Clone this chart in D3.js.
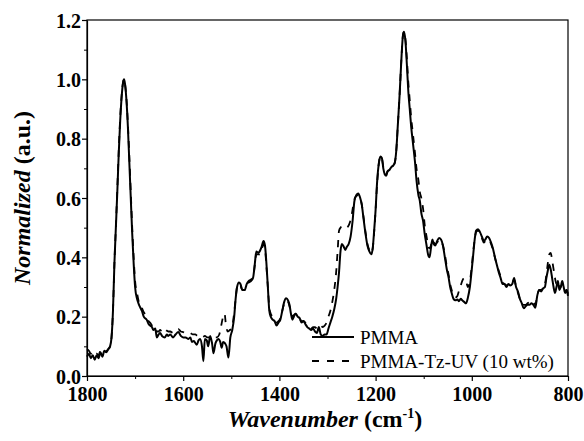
<!DOCTYPE html>
<html>
<head>
<meta charset="utf-8">
<script src="https://cdn.jsdelivr.net/npm/d3@7/dist/d3.min.js"></script>
<style>
  html, body { margin: 0; padding: 0; background: #fff; }
  svg { display: block; }
  text { font-family: "Liberation Serif", "Times New Roman", serif; fill: #000; }
</style>
</head>
<body>
<svg id="chart" width="584" height="441"></svg>
<script>
// ---------------- DATA ----------------
const pmmaWn = [1800,1796,1792,1788,1784,1780,1776,1772,1768,1764,1760,1756,1752,1749,1746,1743,1740,1737,1734,1731,1728,1725,1723,1721,1718,1715,1712,1709,1706,1703,1700,1696,1693,1689,1686,1682,1676,1672,1669,1665,1662,1658,1655,1651,1648,1644,1638,1634,1631,1627,1621,1616,1610,1605,1600,1595,1589,1585,1582,1578,1572,1568,1565,1561,1558,1555,1551,1548,1544,1540,1537,1533,1530,1527,1523,1520,1517,1513,1510,1506,1502,1498,1494,1491,1488,1484,1481,1477,1472,1468,1464,1459,1455,1451,1448,1444,1441,1437,1433,1430,1427,1424,1421,1418,1414,1410,1406,1402,1398,1394,1390,1386,1382,1379,1376,1373,1370,1366,1362,1358,1354,1350,1346,1342,1338,1334,1330,1326,1322,1318,1314,1310,1306,1302,1298,1294,1290,1286,1282,1279,1276,1273,1270,1266,1263,1260,1256,1252,1248,1244,1240,1236,1232,1229,1225,1221,1217,1213,1209,1206,1203,1200,1197,1193,1190,1187,1184,1181,1178,1175,1171,1167,1163,1160,1157,1154,1150,1146,1143,1141,1138,1135,1132,1129,1126,1122,1118,1115,1111,1108,1105,1101,1098,1094,1091,1088,1085,1082,1079,1076,1072,1068,1064,1060,1056,1052,1048,1045,1041,1038,1034,1030,1027,1023,1020,1016,1012,1008,1004,1000,997,994,991,987,983,979,975,972,968,964,960,956,952,948,944,940,936,932,928,924,920,916,912,908,904,900,896,892,888,884,880,876,872,868,864,860,856,852,848,845,842,839,836,833,830,827,824,821,818,815,812,809,806,803,800];
const pmmaVal = [0.065,0.075,0.06,0.07,0.055,0.07,0.06,0.08,0.065,0.085,0.08,0.09,0.10,0.13,0.22,0.38,0.50,0.62,0.75,0.86,0.94,0.99,1.0,0.985,0.93,0.84,0.72,0.60,0.48,0.38,0.30,0.26,0.245,0.23,0.22,0.2,0.19,0.175,0.17,0.165,0.155,0.16,0.13,0.14,0.145,0.135,0.13,0.14,0.135,0.14,0.13,0.14,0.148,0.135,0.13,0.13,0.125,0.13,0.115,0.118,0.105,0.12,0.125,0.1,0.05,0.125,0.12,0.10,0.135,0.11,0.077,0.11,0.12,0.125,0.115,0.095,0.115,0.11,0.10,0.062,0.13,0.155,0.2,0.26,0.3,0.315,0.31,0.29,0.29,0.31,0.32,0.325,0.33,0.38,0.42,0.415,0.42,0.435,0.455,0.44,0.38,0.30,0.22,0.2,0.19,0.185,0.17,0.18,0.19,0.22,0.25,0.262,0.255,0.24,0.21,0.19,0.2,0.21,0.2,0.195,0.18,0.185,0.175,0.165,0.16,0.155,0.16,0.15,0.145,0.165,0.14,0.135,0.14,0.14,0.16,0.18,0.2,0.225,0.26,0.30,0.35,0.42,0.445,0.435,0.425,0.435,0.445,0.47,0.52,0.59,0.61,0.615,0.60,0.58,0.53,0.48,0.44,0.42,0.41,0.43,0.49,0.56,0.65,0.72,0.74,0.735,0.70,0.68,0.675,0.69,0.695,0.705,0.71,0.72,0.76,0.84,0.95,1.08,1.15,1.16,1.13,1.05,0.96,0.90,0.84,0.78,0.72,0.66,0.61,0.59,0.55,0.52,0.48,0.44,0.41,0.40,0.43,0.46,0.445,0.44,0.455,0.465,0.46,0.44,0.40,0.36,0.33,0.30,0.275,0.26,0.255,0.258,0.252,0.26,0.255,0.25,0.245,0.265,0.30,0.36,0.41,0.46,0.49,0.495,0.485,0.47,0.455,0.46,0.47,0.465,0.45,0.43,0.40,0.375,0.35,0.33,0.31,0.31,0.30,0.31,0.305,0.31,0.33,0.30,0.285,0.26,0.245,0.228,0.235,0.24,0.24,0.245,0.24,0.23,0.27,0.29,0.285,0.295,0.30,0.33,0.355,0.375,0.36,0.33,0.30,0.28,0.30,0.32,0.29,0.30,0.32,0.30,0.28,0.29,0.27];

const tzWn = [1800,1796,1792,1788,1784,1780,1776,1772,1768,1764,1760,1756,1752,1749,1746,1743,1740,1737,1734,1731,1728,1725,1723,1721,1718,1715,1712,1709,1706,1703,1700,1696,1693,1689,1686,1682,1676,1672,1669,1665,1662,1658,1655,1651,1648,1644,1640,1636,1631,1627,1621,1616,1610,1605,1600,1595,1589,1585,1580,1575,1570,1565,1560,1555,1550,1545,1540,1535,1530,1525,1521,1517,1514,1511,1507,1503,1499,1495,1491,1488,1484,1481,1477,1472,1468,1464,1459,1455,1451,1448,1444,1441,1437,1433,1430,1427,1424,1421,1418,1414,1410,1406,1402,1398,1394,1390,1386,1382,1379,1376,1373,1370,1366,1362,1358,1354,1350,1346,1342,1338,1334,1330,1326,1322,1318,1314,1310,1306,1302,1298,1294,1290,1286,1282,1279,1276,1273,1269,1265,1261,1257,1253,1249,1245,1241,1236,1232,1229,1225,1221,1217,1213,1209,1206,1203,1200,1197,1193,1190,1187,1184,1181,1178,1175,1171,1167,1163,1160,1157,1154,1150,1146,1143,1141,1138,1135,1132,1129,1126,1122,1118,1115,1111,1108,1105,1101,1098,1094,1091,1088,1085,1082,1079,1076,1072,1068,1064,1060,1056,1052,1048,1045,1041,1038,1034,1030,1027,1023,1020,1016,1012,1008,1004,1000,997,994,991,987,983,979,975,972,968,964,960,956,952,948,944,940,936,932,928,924,920,916,912,908,904,900,896,892,888,884,880,876,872,868,864,860,856,852,848,845,842,839,836,833,830,827,824,821,818,815,812,809,806,803,800];
const tzVal = [0.09,0.085,0.075,0.08,0.07,0.075,0.07,0.085,0.08,0.085,0.085,0.09,0.10,0.13,0.22,0.38,0.50,0.63,0.76,0.87,0.945,0.99,1.0,0.985,0.935,0.85,0.74,0.62,0.50,0.40,0.32,0.28,0.255,0.24,0.23,0.215,0.2,0.185,0.18,0.17,0.165,0.165,0.15,0.15,0.155,0.15,0.16,0.155,0.15,0.15,0.145,0.15,0.158,0.15,0.148,0.145,0.147,0.145,0.14,0.14,0.135,0.135,0.13,0.135,0.13,0.13,0.125,0.13,0.13,0.14,0.17,0.2,0.21,0.17,0.15,0.155,0.16,0.2,0.26,0.3,0.31,0.305,0.29,0.29,0.305,0.315,0.32,0.33,0.375,0.41,0.41,0.41,0.425,0.445,0.43,0.37,0.30,0.23,0.21,0.2,0.19,0.18,0.185,0.195,0.22,0.245,0.255,0.25,0.235,0.215,0.2,0.205,0.21,0.205,0.195,0.185,0.185,0.18,0.17,0.165,0.16,0.165,0.165,0.16,0.17,0.17,0.165,0.17,0.18,0.20,0.22,0.25,0.29,0.35,0.42,0.49,0.50,0.505,0.50,0.50,0.505,0.52,0.55,0.59,0.605,0.61,0.60,0.58,0.535,0.485,0.445,0.425,0.415,0.43,0.485,0.56,0.645,0.72,0.74,0.735,0.705,0.685,0.68,0.69,0.695,0.705,0.71,0.72,0.76,0.84,0.95,1.08,1.15,1.16,1.135,1.07,0.99,0.93,0.87,0.81,0.75,0.70,0.66,0.62,0.60,0.56,0.51,0.47,0.44,0.43,0.44,0.46,0.45,0.445,0.45,0.46,0.455,0.44,0.41,0.37,0.34,0.31,0.285,0.27,0.265,0.27,0.285,0.305,0.32,0.33,0.32,0.30,0.32,0.37,0.42,0.46,0.485,0.49,0.48,0.465,0.45,0.455,0.46,0.46,0.445,0.425,0.40,0.375,0.355,0.335,0.315,0.31,0.305,0.31,0.31,0.315,0.325,0.30,0.28,0.26,0.25,0.24,0.24,0.245,0.25,0.255,0.25,0.24,0.27,0.29,0.29,0.30,0.31,0.34,0.38,0.41,0.415,0.39,0.36,0.33,0.31,0.32,0.30,0.30,0.31,0.30,0.285,0.29,0.275];

const xMajorTicks = [1800, 1600, 1400, 1200, 1000, 800];
const xMinorTicks = [1700, 1500, 1300, 1100, 900];
const yMajorTicks = [0.0, 0.2, 0.4, 0.6, 0.8, 1.0, 1.2];
const yMinorTicks = [0.1, 0.3, 0.5, 0.7, 0.9, 1.1];
const seriesNames = ["PMMA", "PMMA-Tz-UV (10 wt%)"];

// ---------------- CHART ----------------
const svg = d3.select("#chart");
const L = 87, R = 568, T = 20, B = 376;

const x = d3.scaleLinear().domain([1800, 800]).range([L, R]);
const y = d3.scaleLinear().domain([0, 1.2]).range([B, T]);

// frame
svg.append("rect")
  .attr("x", L).attr("y", T).attr("width", R - L).attr("height", B - T)
  .attr("fill", "none").attr("stroke", "#000").attr("stroke-width", 1.2);

const tickFont = g => g.selectAll("text")
  .style("font-family", '"Liberation Serif", "Times New Roman", serif')
  .style("font-size", "20px").style("font-weight", "bold").attr("fill", "#000");

// x axis major
const gx = svg.append("g").attr("transform", `translate(0,${B})`)
  .call(d3.axisBottom(x).tickValues(xMajorTicks).tickSize(5).tickSizeOuter(0).tickPadding(6).tickFormat(d3.format("d")));
gx.call(tickFont);
gx.select(".domain").attr("stroke-width", 1.2);
gx.selectAll(".tick line").attr("stroke-width", 1.2);
// x axis minor
const gxm = svg.append("g").attr("transform", `translate(0,${B})`)
  .call(d3.axisBottom(x).tickValues(xMinorTicks).tickSize(3).tickSizeOuter(0).tickFormat(""));
gxm.select(".domain").remove();

// y axis major
const gy = svg.append("g").attr("transform", `translate(${L},0)`)
  .call(d3.axisLeft(y).tickValues(yMajorTicks).tickSize(5).tickSizeOuter(0).tickPadding(1).tickFormat(d3.format(".1f")));
gy.call(tickFont);
gy.select(".domain").attr("stroke-width", 1.2);
gy.selectAll(".tick line").attr("stroke-width", 1.2);
gy.selectAll(".tick text").attr("dy", "0.35em");
// y axis minor
const gym = svg.append("g").attr("transform", `translate(${L},0)`)
  .call(d3.axisLeft(y).tickValues(yMinorTicks).tickSize(3).tickSizeOuter(0).tickFormat(""));
gym.select(".domain").remove();

// lines
const line = d3.line().x(d => x(d[0])).y(d => y(d[1])).curve(d3.curveMonotoneX);
const tzData = tzWn.map((w, i) => [w, tzVal[i]]);
const pmmaData = pmmaWn.map((w, i) => [w, pmmaVal[i]]);

svg.append("path").datum(tzData)
  .attr("d", line).attr("fill", "none").attr("stroke", "#000")
  .attr("stroke-width", 1.8).attr("stroke-dasharray", "7,7");
svg.append("path").datum(pmmaData)
  .attr("d", line).attr("fill", "none").attr("stroke", "#000")
  .attr("stroke-width", 2).attr("stroke-linejoin", "round");

// legend
const leg = svg.append("g");
const legRows = [{ name: seriesNames[0], dash: null, y: 337 }, { name: seriesNames[1], dash: "7,8", y: 361 }];
legRows.forEach(r => {
  leg.append("line").attr("x1", 312).attr("x2", 354).attr("y1", r.y).attr("y2", r.y)
    .attr("stroke", "#000").attr("stroke-width", r.dash ? 1.8 : 2)
    .attr("stroke-dasharray", r.dash);
  leg.append("text").attr("x", 360).attr("y", r.y + 7)
    .style("font-size", "19px").text(r.name);
});

// x title
const xt = svg.append("text").attr("x", 325).attr("y", 427).attr("text-anchor", "middle")
  .style("font-size", "24px").style("font-weight", "bold");
xt.append("tspan").style("font-style", "italic").text("Wavenumber");
xt.append("tspan").text(" (cm");
xt.append("tspan").attr("dy", -9).style("font-size", "14px").text("-1");
xt.append("tspan").attr("dy", 9).text(")");

// y title
const yt = svg.append("text").attr("transform", "translate(30,198) rotate(-90)").attr("text-anchor", "middle")
  .style("font-size", "24px").style("font-weight", "bold");
yt.append("tspan").style("font-style", "italic").text("Normalized");
yt.append("tspan").text(" (a.u.)");
</script>
</body>
</html>
